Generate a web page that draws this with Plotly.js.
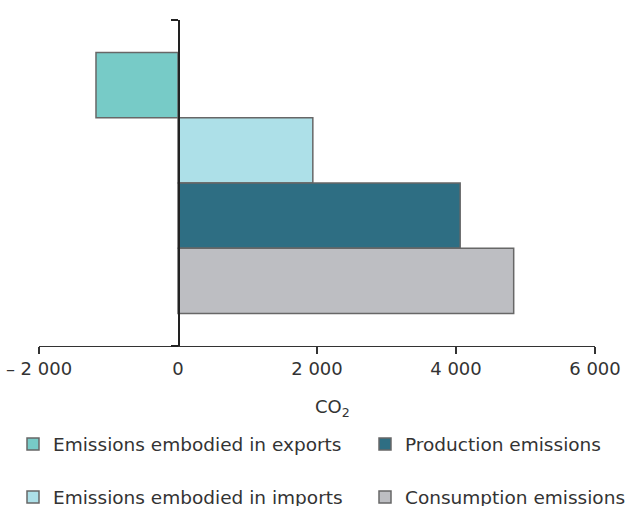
<!DOCTYPE html>
<html>
<head>
<meta charset="utf-8">
<script src="https://cdn.plot.ly/plotly-3.0.1.min.js"></script>
<style>html,body{margin:0;padding:0;background:#fff;}#chart{width:626px;height:506px;}</style>
</head>
<body>
<div id="chart"></div>
<script>
// Data
const categories = ["Emissions embodied in exports", "Emissions embodied in imports", "Production emissions", "Consumption emissions"];
const values = [-1180, 1940, 4060, 4830];
const colors = ["#77cbc7", "#ade0e8", "#2e6e83", "#bdbec2"];
const legendIds = ["legend", "legend2", "legend3", "legend4"];
const xTickVals = [-2000, 0, 2000, 4000, 6000];
const xTickText = ["– 2 000", "0", "2 000", "4 000", "6 000"];
const xTitle = "CO<sub>2</sub>";

const fontFam = "DejaVu Sans, Verdana, sans-serif";
const font = {family: fontFam, size: 18.5, color: "#333333"};

const traces = categories.map((c, i) => ({
  type: "bar",
  orientation: "h",
  name: c,
  y: [c],
  x: [values[i]],
  width: 1,
  legend: legendIds[i],
  marker: {color: colors[i], line: {color: "#676767", width: 1.5}},
  hoverinfo: "x+name"
}));

function leg(xpx, ypx) {
  return {
    orientation: "h",
    xref: "container", yref: "container",
    xanchor: "left", yanchor: "middle",
    x: xpx / 626, y: 1 - ypx / 506,
    font: font, bgcolor: "rgba(0,0,0,0)", traceorder: "normal",
    itemclick: false
  };
}

const layout = {
  width: 626, height: 506,
  margin: {l: 39, r: 31, t: 20, b: 160},
  paper_bgcolor: "#ffffff", plot_bgcolor: "#ffffff",
  font: font,
  barmode: "overlay",
  showlegend: true,
  xaxis: {
    range: [-2000, 6000],
    tickmode: "array", tickvals: xTickVals, ticktext: xTickText,
    ticks: "", showgrid: false, zeroline: false,
    showline: true, linecolor: "#333333", linewidth: 1.3,
    tickfont: {family: fontFam, size: 18, color: "#333333"},
    ticklabelstandoff: 6,
    minor: {tickmode: "array", tickvals: [-2000, 2000, 4000, 6000], ticks: "outside", ticklen: 7, tickcolor: "#333333", tickwidth: 1.3, showgrid: false}
  },
  yaxis: {
    type: "category",
    categoryorder: "array", categoryarray: categories,
    range: [4, -1],
    anchor: "free", position: 0.25,
    showline: true, linecolor: "#222222", linewidth: 1.5,
    tickmode: "array", tickvals: [-1, 4], ticktext: ["", ""],
    ticks: "outside", ticklen: 7, tickcolor: "#222222", tickwidth: 1.3,
    showticklabels: false, showgrid: false, zeroline: false
  },
  legend: leg(13, 444.5),
  legend2: leg(13, 497.5),
  legend3: leg(365, 444.5),
  legend4: leg(365, 497.5),
  annotations: [{
    text: xTitle, xref: "paper", yref: "paper",
    x: (313 - 39) / 556, y: 1 - (408 - 20) / 326,
    xanchor: "left", yanchor: "middle", showarrow: false,
    font: {family: fontFam, size: 18, color: "#333333"}
  }]
};

Plotly.newPlot("chart", traces, layout, {displayModeBar: false, staticPlot: true});
</script>
</body>
</html>
